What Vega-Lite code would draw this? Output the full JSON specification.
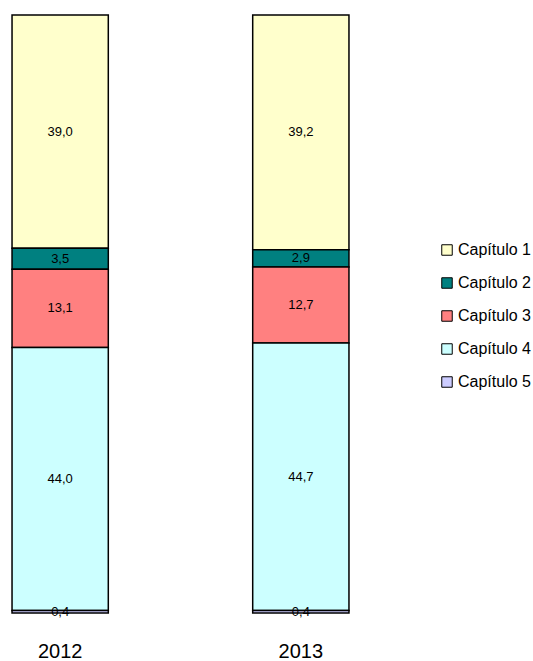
{
  "$schema": "https://vega.github.io/schema/vega-lite/v6.json",
  "autosize": "none",
  "width": 361,
  "height": 598,
  "padding": {"left": 0, "top": 15, "right": 172, "bottom": 48},
  "background": "white",
  "data": {
    "values": [
      {"year": "2012", "cap": "Capítulo 1", "value": 39.0, "label": "39,0"},
      {"year": "2012", "cap": "Capítulo 2", "value": 3.5, "label": "3,5"},
      {"year": "2012", "cap": "Capítulo 3", "value": 13.1, "label": "13,1"},
      {"year": "2012", "cap": "Capítulo 4", "value": 44.0, "label": "44,0"},
      {"year": "2012", "cap": "Capítulo 5", "value": 0.4, "label": "0,4"},
      {"year": "2013", "cap": "Capítulo 1", "value": 39.2, "label": "39,2"},
      {"year": "2013", "cap": "Capítulo 2", "value": 2.9, "label": "2,9"},
      {"year": "2013", "cap": "Capítulo 3", "value": 12.7, "label": "12,7"},
      {"year": "2013", "cap": "Capítulo 4", "value": 44.7, "label": "44,7"},
      {"year": "2013", "cap": "Capítulo 5", "value": 0.4, "label": "0,4"}
    ]
  },
  "transform": [
    {"stack": "value", "groupby": ["year"], "sort": [{"field": "cap", "order": "descending"}], "as": ["y0", "y1"], "offset": "normalize"},
    {"calculate": "(datum.y0 + datum.y1) / 2", "as": "ymid"}
  ],
  "encoding": {
    "x": {
      "field": "year", "type": "nominal",
      "scale": {"paddingInner": 0.6, "paddingOuter": 0.05},
      "axis": {"title": null, "domain": false, "ticks": false, "labelAngle": 0, "labelFont": "Liberation Sans", "labelFontSize": 20, "labelColor": "black", "labelPadding": 28, "labelBaseline": "top"}
    }
  },
  "layer": [
    {
      "mark": {"type": "bar", "stroke": "black", "strokeWidth": 1.5},
      "encoding": {
        "y": {"field": "y0", "type": "quantitative", "scale": {"domain": [0, 1]}, "axis": null},
        "y2": {"field": "y1"},
        "color": {
          "field": "cap", "type": "nominal",
          "scale": {"domain": ["Capítulo 1", "Capítulo 2", "Capítulo 3", "Capítulo 4", "Capítulo 5"], "range": ["#FFFFCC", "#008080", "#FF8080", "#CCFFFF", "#CCCCFF"]},
          "legend": {
            "title": null, "orient": "none", "legendX": 439, "legendY": 227,
            "symbolType": "square", "symbolSize": 110, "symbolStrokeColor": "black", "symbolStrokeWidth": 1,
            "labelFont": "Liberation Sans", "labelFontSize": 16, "labelColor": "black",
            "rowPadding": 17, "labelOffset": 3
          }
        }
      }
    },
    {
      "mark": {"type": "text", "font": "Liberation Sans", "fontSize": 13, "color": "black"},
      "encoding": {
        "y": {"field": "ymid", "type": "quantitative", "scale": {"domain": [0, 1]}},
        "text": {"field": "label"}
      }
    }
  ],
  "config": {"view": {"stroke": null}}
}
